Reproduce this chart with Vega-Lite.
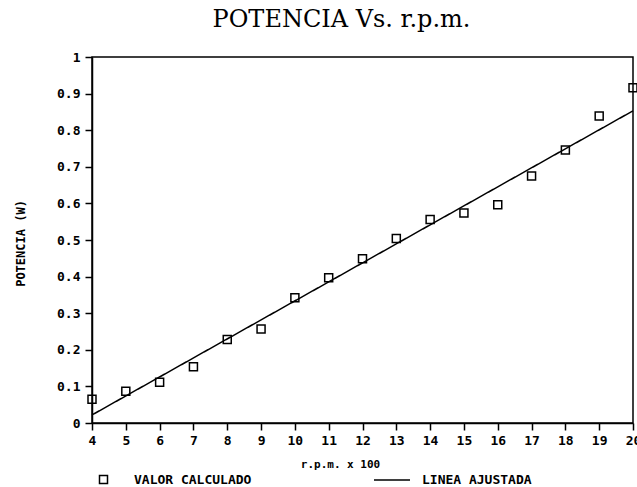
{
  "$schema": "https://vega.github.io/schema/vega-lite/v6.json",
  "width": 541,
  "height": 366,
  "autosize": {"type": "none"},
  "padding": {"left": 92, "top": 57, "right": 4, "bottom": 64},
  "background": "white",
  "title": {
    "text": "POTENCIA Vs. r.p.m.",
    "font": "DejaVu Serif",
    "fontSize": 24,
    "fontWeight": "normal",
    "color": "black",
    "anchor": "middle",
    "dx": -21,
    "offset": 19
  },
  "config": {
    "view": {"stroke": "black", "strokeWidth": 1.5},
    "axis": {
      "domainColor": "black",
      "domainWidth": 1.5,
      "tickColor": "black",
      "tickWidth": 1.5,
      "tickSize": 7,
      "grid": false,
      "labelFont": "DejaVu Sans Mono",
      "labelFontWeight": "bold",
      "labelFontSize": 13,
      "labelColor": "black",
      "titleFont": "DejaVu Sans Mono",
      "titleFontWeight": "bold",
      "titleFontSize": 11,
      "titleColor": "black"
    },
    "legend": {
      "labelFont": "DejaVu Sans Mono",
      "labelFontWeight": "bold",
      "labelFontSize": 13,
      "labelColor": "black",
      "padding": 0
    }
  },
  "datasets": {
    "puntos": [
      {"rpm": 4, "potencia": 0.065, "serie": "VALOR CALCULADO"},
      {"rpm": 5, "potencia": 0.087, "serie": "VALOR CALCULADO"},
      {"rpm": 6, "potencia": 0.111, "serie": "VALOR CALCULADO"},
      {"rpm": 7, "potencia": 0.154, "serie": "VALOR CALCULADO"},
      {"rpm": 8, "potencia": 0.228, "serie": "VALOR CALCULADO"},
      {"rpm": 9, "potencia": 0.257, "serie": "VALOR CALCULADO"},
      {"rpm": 10, "potencia": 0.342, "serie": "VALOR CALCULADO"},
      {"rpm": 11, "potencia": 0.397, "serie": "VALOR CALCULADO"},
      {"rpm": 12, "potencia": 0.449, "serie": "VALOR CALCULADO"},
      {"rpm": 13, "potencia": 0.504, "serie": "VALOR CALCULADO"},
      {"rpm": 14, "potencia": 0.556, "serie": "VALOR CALCULADO"},
      {"rpm": 15, "potencia": 0.574, "serie": "VALOR CALCULADO"},
      {"rpm": 16, "potencia": 0.596, "serie": "VALOR CALCULADO"},
      {"rpm": 17, "potencia": 0.675, "serie": "VALOR CALCULADO"},
      {"rpm": 18, "potencia": 0.746, "serie": "VALOR CALCULADO"},
      {"rpm": 19, "potencia": 0.839, "serie": "VALOR CALCULADO"},
      {"rpm": 20, "potencia": 0.916, "serie": "VALOR CALCULADO"}
    ],
    "linea": [
      {"rpm": 4, "potencia": 0.022, "linea": "LINEA AJUSTADA"},
      {"rpm": 20, "potencia": 0.853, "linea": "LINEA AJUSTADA"}
    ]
  },
  "encoding": {
    "x": {
      "field": "rpm", "type": "quantitative",
      "scale": {"domain": [4, 20], "nice": false, "zero": false},
      "axis": {
        "values": [4,5,6,7,8,9,10,11,12,13,14,15,16,17,18,19,20],
        "title": "r.p.m. x 100",
        "titleX": 248, "titleY": 41,
        "titleBaseline": "middle",
        "labelPadding": 4,
        "labelFlush": false,
        "labelOverlap": false
      }
    },
    "y": {
      "field": "potencia", "type": "quantitative",
      "scale": {"domain": [0, 1], "nice": false},
      "axis": {
        "values": [0,0.1,0.2,0.3,0.4,0.5,0.6,0.7,0.8,0.9,1],
        "format": "~g",
        "title": "POTENCIA (W)",
        "titleFontSize": 12,
        "titleX": -72, "titleY": 186,
        "titleAlign": "center",
        "titleBaseline": "middle",
        "labelPadding": 5,
        "labelFlush": false,
        "labelOverlap": false
      }
    }
  },
  "layer": [
    {
      "data": {"name": "linea"},
      "mark": {"type": "line", "color": "black", "strokeWidth": 1.5},
      "encoding": {
        "strokeDash": {
          "field": "linea", "type": "nominal",
          "scale": {"range": [[1, 0]]},
          "legend": {
            "title": null,
            "orient": "none",
            "legendX": 281,
            "legendY": 404,
            "symbolType": "stroke",
            "symbolSize": 1300,
            "symbolStrokeWidth": 1.5,
            "symbolStrokeColor": "black",
            "labelOffset": 11
          }
        }
      }
    },
    {
      "data": {"name": "puntos"},
      "mark": {"type": "point", "shape": "square", "filled": false, "color": "black", "strokeWidth": 1.5, "size": 64, "opacity": 1},
      "encoding": {
        "shape": {
          "field": "serie", "type": "nominal",
          "scale": {"range": ["square"]},
          "legend": {
            "title": null,
            "orient": "none",
            "legendX": 5,
            "legendY": 416,
            "symbolSize": 64,
            "symbolStrokeWidth": 1.5,
            "symbolStrokeColor": "black",
            "symbolFillColor": "transparent",
            "labelOffset": 24
          }
        }
      }
    }
  ]
}
